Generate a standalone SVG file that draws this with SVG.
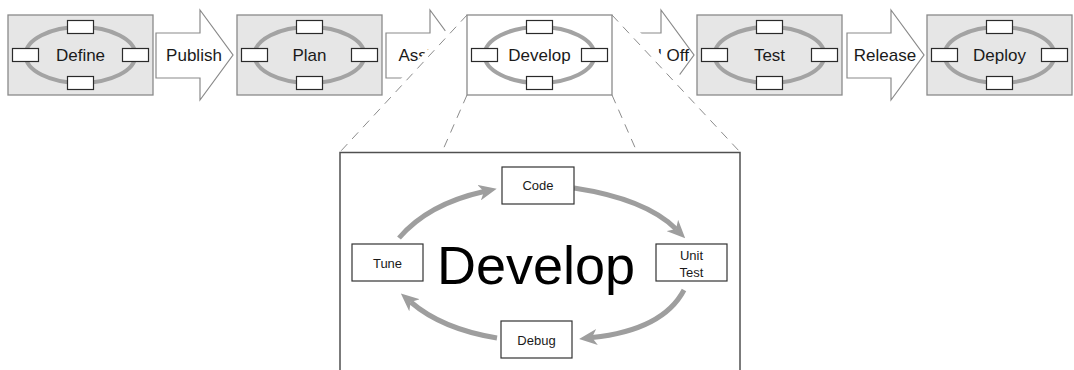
<svg xmlns="http://www.w3.org/2000/svg" xmlns:xlink="http://www.w3.org/1999/xlink" width="1074" height="370" viewBox="0 0 1074 370">
<style>
text{font-family:"Liberation Sans",Arial,sans-serif;fill:#1a1a1a;text-anchor:middle}
.stage{stroke:#8a8a8a;stroke-width:1.3}
.gray{fill:#e6e6e6}
.white{fill:#fff}
.ring{fill:none;stroke:#a3a3a3;stroke-width:4}
.port{fill:#fff;stroke:#2a2a2a;stroke-width:1.2}
.lbl{font-size:17px}
.flow{fill:#fff;stroke:#8a8a8a;stroke-width:1.2}
.dash{stroke:#8c8c8c;stroke-width:1;stroke-dasharray:9 7;fill:none}
.big{fill:#fff;stroke:#505050;stroke-width:1.5}
.step{fill:#fff;stroke:#333;stroke-width:1.2}
.stxt{font-size:13px}
.cyc{fill:none;stroke:#9e9e9e;stroke-width:5;marker-end:url(#ah)}
</style>
<defs>
<g id="ringset">
<ellipse class="ring" cx="0" cy="0" rx="55" ry="28"/>
<rect class="port" x="-13" y="-34.5" width="26" height="13"/>
<rect class="port" x="-13" y="21.5" width="26" height="13"/>
<rect class="port" x="-68" y="-6.5" width="26" height="13"/>
<rect class="port" x="42" y="-6.5" width="26" height="13"/>
</g>
<polygon id="bigarrow" points="0,-22 44,-22 44,-45 77,0 44,45 44,23 0,23"/>
<marker id="ah" markerUnits="userSpaceOnUse" viewBox="0 0 18 16" markerWidth="18" markerHeight="16" refX="5" refY="8" orient="auto">
<path d="M0,0 L18,8 L0,16 L5,8 z" fill="#9e9e9e"/>
</marker>
</defs>

<g id="connectors">
<g id="publish" transform="translate(156,55)"><use xlink:href="#bigarrow" href="#bigarrow" class="flow"/><text class="lbl" x="38" y="6">Publish</text></g>
<g id="assign" transform="translate(386,55)"><use xlink:href="#bigarrow" href="#bigarrow" class="flow"/><text class="lbl" x="38" y="6">Assign</text></g>
<g id="handoff" transform="translate(617,55)"><use xlink:href="#bigarrow" href="#bigarrow" class="flow"/><text class="lbl" x="38" y="6">Hand Off</text></g>
<g id="release" transform="translate(847,55)"><use xlink:href="#bigarrow" href="#bigarrow" class="flow"/><text class="lbl" x="38" y="6">Release</text></g>
</g>

<g id="zoom-lens">
<polygon points="460,15 624,15 752,152 740,380 340,380 333,152" fill="#fff"/>
<line class="dash" x1="467" y1="15" x2="340" y2="152"/>
<line class="dash" x1="612" y1="15" x2="740" y2="152"/>
<line class="dash" x1="467" y1="95" x2="442" y2="152"/>
<line class="dash" x1="612" y1="95" x2="637" y2="152"/>
</g>

<g id="define" transform="translate(80.5,55)">
<rect class="stage gray" x="-72.5" y="-40" width="145" height="80"/>
<use xlink:href="#ringset" href="#ringset"/>
<text class="lbl" y="6">Define</text>
</g>
<g id="plan" transform="translate(309.5,55)">
<rect class="stage gray" x="-72.5" y="-40" width="145" height="80"/>
<use xlink:href="#ringset" href="#ringset"/>
<text class="lbl" y="6">Plan</text>
</g>
<g id="test" transform="translate(769.5,55)">
<rect class="stage gray" x="-72.5" y="-40" width="145" height="80"/>
<use xlink:href="#ringset" href="#ringset"/>
<text class="lbl" y="6">Test</text>
</g>
<g id="deploy" transform="translate(999.5,55)">
<rect class="stage gray" x="-72.5" y="-40" width="145" height="80"/>
<use xlink:href="#ringset" href="#ringset"/>
<text class="lbl" y="6">Deploy</text>
</g>

<g id="develop" transform="translate(539.5,55)">
<rect class="stage white" x="-72.5" y="-40" width="145" height="80"/>
<use xlink:href="#ringset" href="#ringset"/>
<text class="lbl" y="6">Develop</text>
</g>

<g id="develop-detail">
<rect class="big" x="340" y="152.5" width="400" height="230"/>
<text x="536" y="284" style="font-size:54px;fill:#000">Develop</text>
</g>

<g id="cycle">
<path class="cyc" d="M399,238 Q428,204 484,191.5"/>
<path class="cyc" d="M574,188 Q646,199 676,229"/>
<path class="cyc" d="M684,290 Q663,330 592,337.6"/>
<path class="cyc" d="M497,338 Q442,329 410.7,302"/>
</g>

<g id="code"><rect class="step" x="502" y="167" width="72" height="37"/><text class="stxt" x="538" y="190">Code</text></g>
<g id="unit-test"><rect class="step" x="656" y="244" width="71" height="37"/><text class="stxt" x="691.5" y="260">Unit</text><text class="stxt" x="691.5" y="277">Test</text></g>
<g id="tune"><rect class="step" x="352" y="244" width="71" height="37"/><text class="stxt" x="387.5" y="268">Tune</text></g>
<g id="debug"><rect class="step" x="501" y="321" width="71" height="37"/><text class="stxt" x="536.5" y="345">Debug</text></g>
</svg>
